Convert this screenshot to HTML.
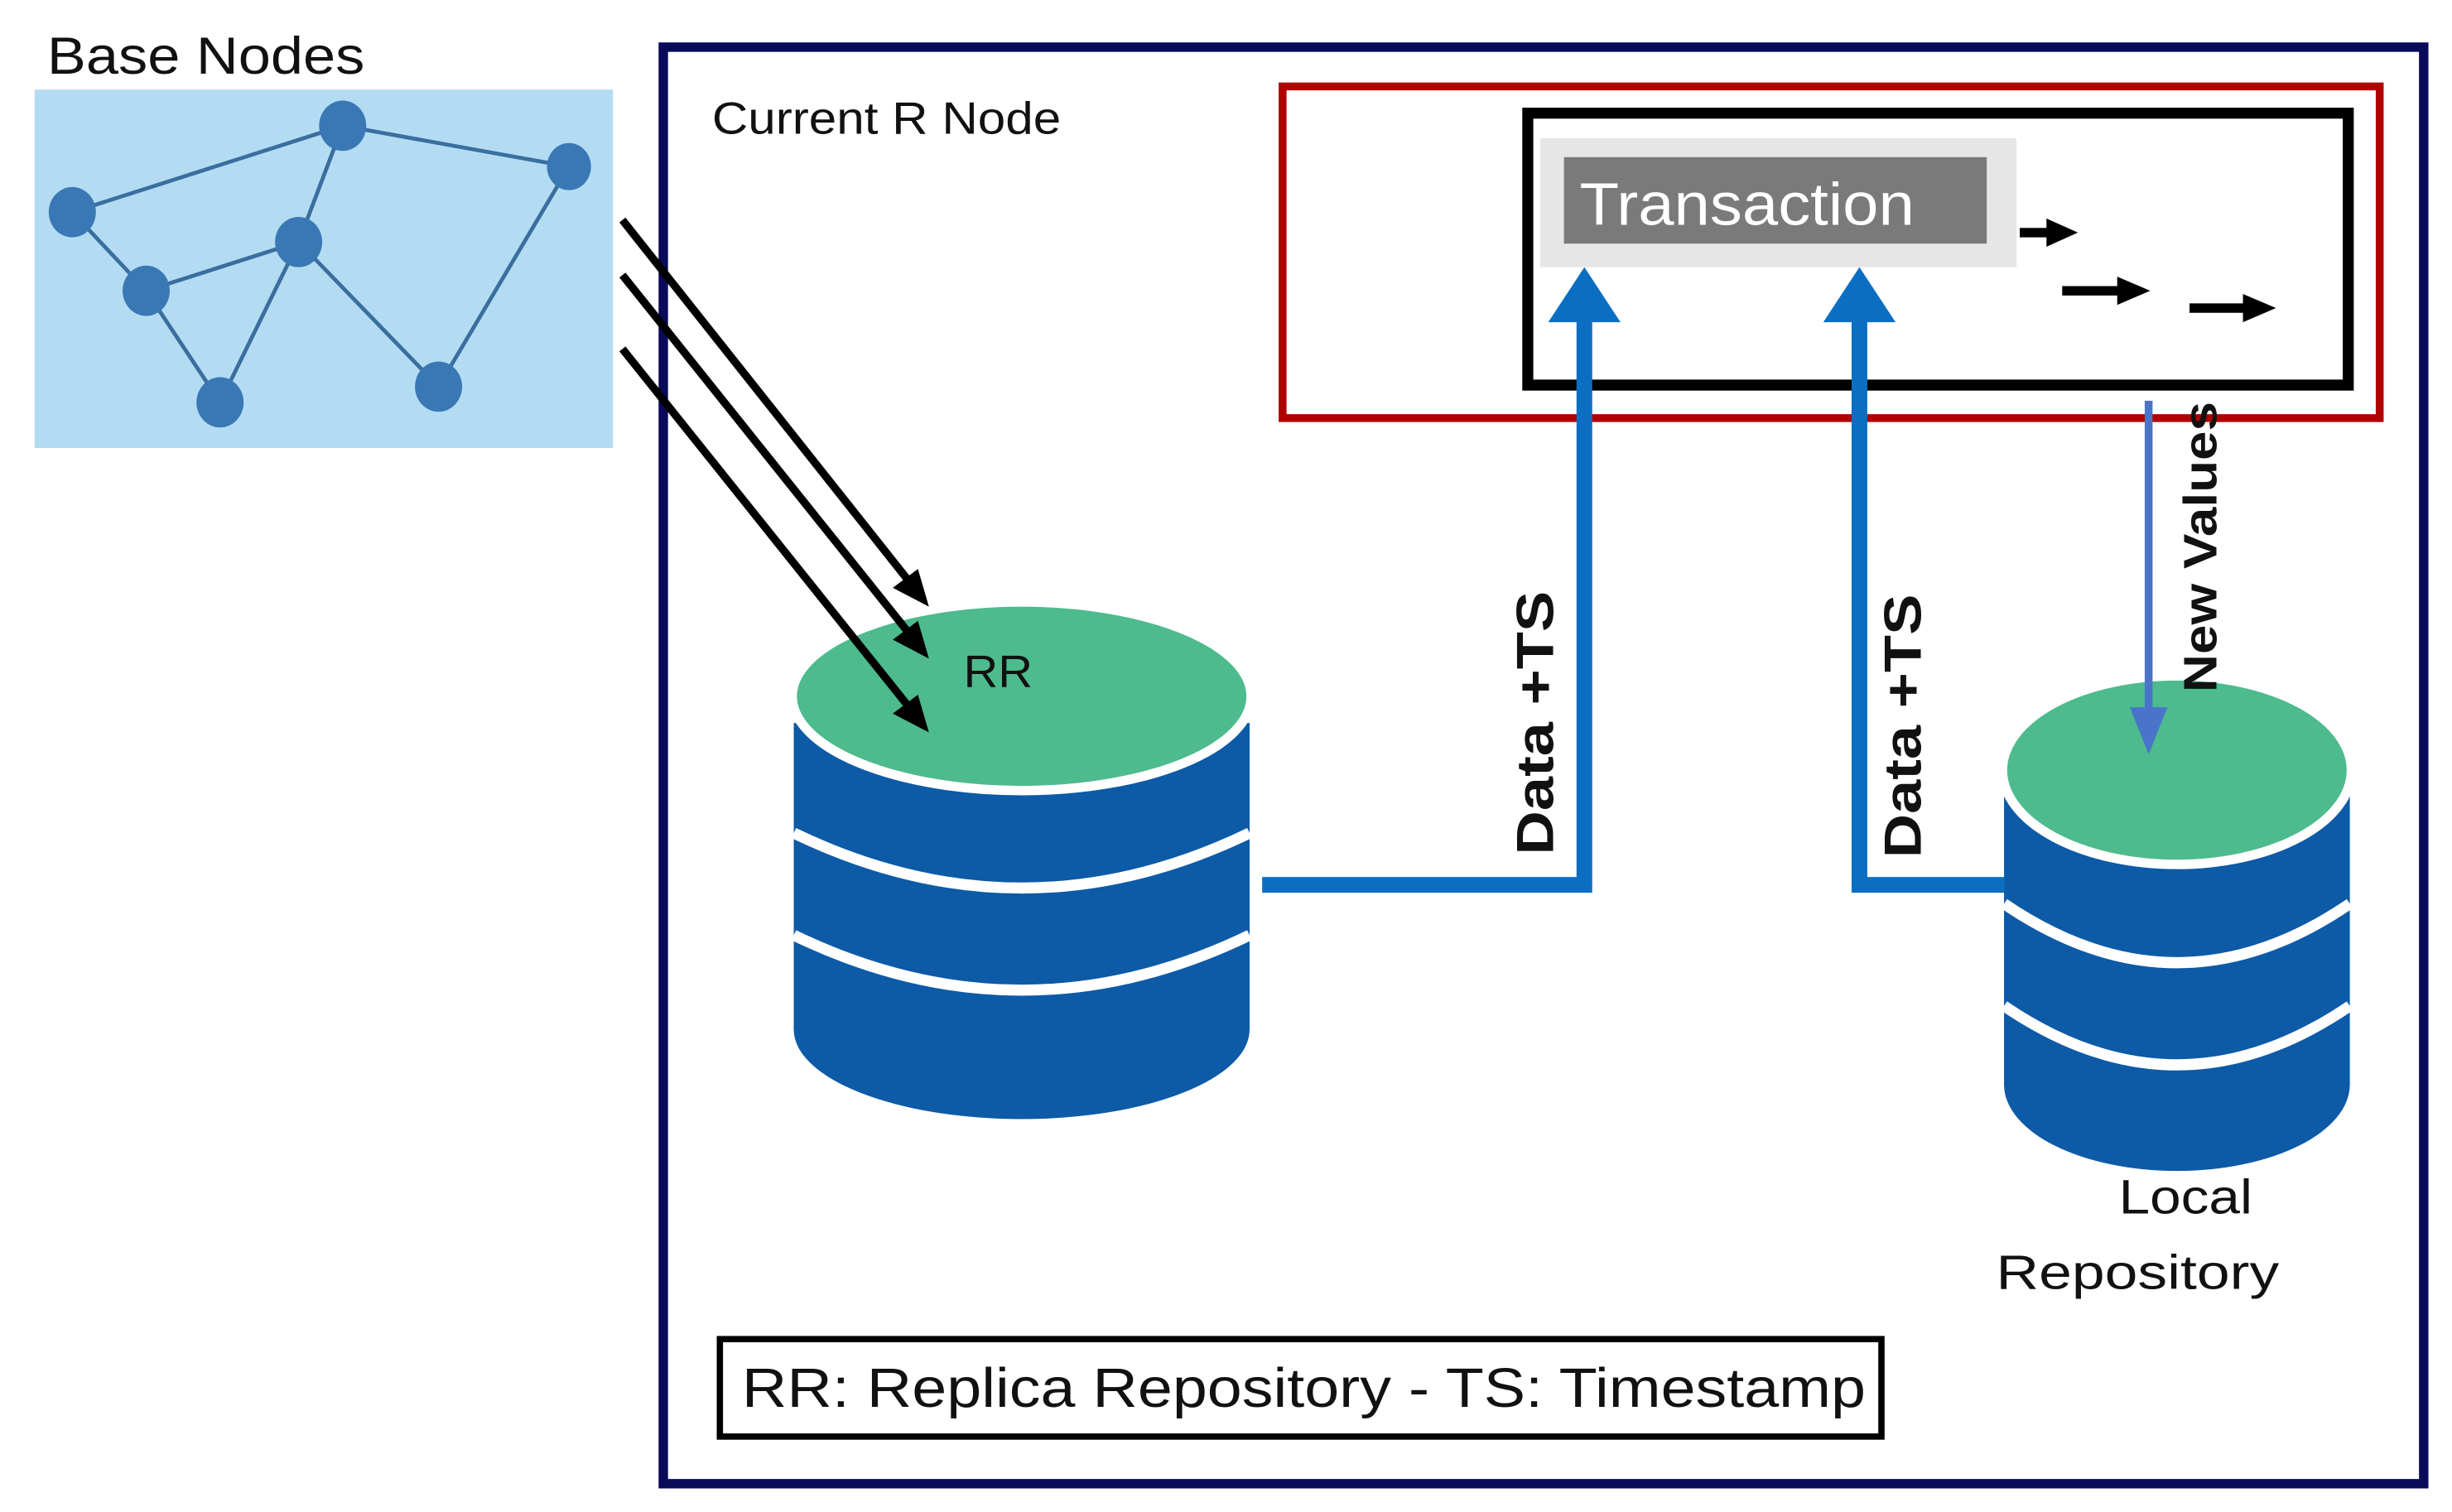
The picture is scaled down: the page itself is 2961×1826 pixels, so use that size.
<!DOCTYPE html>
<html><head><meta charset="utf-8"><style>
html,body{margin:0;padding:0;background:#fff;}
svg{display:block;}
text{font-family:"Liberation Sans",sans-serif;}
</style></head><body>
<svg width="2961" height="1826" viewBox="0 0 1560 962" preserveAspectRatio="none" xmlns="http://www.w3.org/2000/svg">
<rect width="1560" height="962" fill="#fff"/>
<text x="30" y="47" font-size="33" textLength="202" lengthAdjust="spacingAndGlyphs" fill="#111">Base Nodes</text>
<rect x="22" y="57" width="368" height="228" fill="#b3dcf3"/>
<g stroke="#3a6e9e" stroke-width="2.5">
<line x1="46" y1="135" x2="218" y2="80"/><line x1="218" y1="80" x2="362" y2="106"/>
<line x1="218" y1="80" x2="190" y2="154"/><line x1="190" y1="154" x2="93" y2="185"/>
<line x1="93" y1="185" x2="46" y2="135"/><line x1="190" y1="154" x2="140" y2="256"/>
<line x1="93" y1="185" x2="140" y2="256"/><line x1="190" y1="154" x2="279" y2="246"/>
<line x1="279" y1="246" x2="362" y2="106"/>
</g>
<g fill="#3a78b5">
<ellipse cx="218" cy="80" rx="15" ry="16"/><ellipse cx="362" cy="106" rx="14" ry="15"/>
<ellipse cx="46" cy="135" rx="15" ry="16"/><ellipse cx="190" cy="154" rx="15" ry="16"/>
<ellipse cx="93" cy="185" rx="15" ry="16"/><ellipse cx="140" cy="256" rx="15" ry="16"/>
<ellipse cx="279" cy="246" rx="15" ry="16"/>
</g>
<rect x="422" y="30" width="1120" height="914" fill="none" stroke="#0a0a5a" stroke-width="6"/>
<text x="453" y="85" font-size="29" textLength="222" lengthAdjust="spacingAndGlyphs" fill="#111">Current R Node</text>
<rect x="816" y="55" width="698" height="211" fill="none" stroke="#b00000" stroke-width="5"/>
<rect x="972" y="72" width="522" height="173" fill="none" stroke="#000" stroke-width="7"/>
<rect x="980" y="88" width="303" height="82" fill="#e6e6e6"/>
<rect x="995" y="100" width="269" height="55" fill="#7a7a7a"/>
<text x="1005" y="143" font-size="38" textLength="213" lengthAdjust="spacingAndGlyphs" fill="#fff">Transaction</text>
<g stroke="#000" stroke-width="6"><line x1="1285" y1="148" x2="1305" y2="148"/><line x1="1312" y1="185" x2="1350" y2="185"/><line x1="1393" y1="196" x2="1430" y2="196"/></g>
<g fill="#000"><polygon points="1302,139 1322,148 1302,157"/><polygon points="1347,176 1368,185 1347,194"/><polygon points="1427,187 1448,196 1427,205"/></g>
<!-- RR cylinder -->
<g fill="#0d5aa7">
<ellipse cx="650" cy="655" rx="145" ry="57"/><rect x="505" y="460" width="290" height="195"/>
</g>
<g fill="none" stroke="#fff" stroke-width="7">
<path d="M505,530 Q650,600 795,530"/><path d="M505,595 Q650,665 795,595"/>
</g>
<ellipse cx="650" cy="443" rx="146" ry="60" fill="#4dbb8d" stroke="#fff" stroke-width="6"/>
<text x="613" y="437" font-size="29" textLength="44" lengthAdjust="spacingAndGlyphs" fill="#111">RR</text>
<!-- local cylinder -->
<g fill="#0d5aa7"><ellipse cx="1385" cy="690" rx="110" ry="55"/><rect x="1275" y="500" width="220" height="190"/></g>
<g fill="none" stroke="#fff" stroke-width="7">
<path d="M1275,575 Q1385,650 1495,575"/><path d="M1275,640 Q1385,715 1495,640"/>
</g>
<ellipse cx="1385" cy="490" rx="111" ry="60" fill="#4dbb8d" stroke="#fff" stroke-width="6"/>
<text x="1348" y="772" font-size="31" textLength="85" lengthAdjust="spacingAndGlyphs" fill="#111">Local</text>
<text x="1270" y="820" font-size="31" textLength="180" lengthAdjust="spacingAndGlyphs" fill="#111">Repository</text>
<!-- diagonal arrows -->
<g stroke="#000" stroke-width="5"><line x1="396" y1="140" x2="580" y2="372"/><line x1="396" y1="175" x2="580" y2="405"/><line x1="396" y1="222" x2="580" y2="452"/></g>
<g fill="#000"><polygon points="591,386 568,374 584,362"/><polygon points="591,419 568,407 584,395"/><polygon points="591,466 568,454 584,442"/></g>
<!-- blue connectors -->
<g fill="none" stroke="#0a6fc2" stroke-width="10">
<polyline points="803,563 1008,563 1008,200"/>
<polyline points="1275,563 1183,563 1183,200"/>
</g>
<g fill="#0a6fc2"><polygon points="1008,170 985,205 1031,205"/><polygon points="1183,170 1160,205 1206,205"/></g>
<text transform="translate(988,460) rotate(-90)" text-anchor="middle" font-size="33" font-weight="bold" textLength="168" lengthAdjust="spacingAndGlyphs" fill="#111">Data +TS</text>
<text transform="translate(1222,462) rotate(-90)" text-anchor="middle" font-size="33" font-weight="bold" textLength="168" lengthAdjust="spacingAndGlyphs" fill="#111">Data +TS</text>
<line x1="1367" y1="255" x2="1367" y2="455" stroke="#4a74c9" stroke-width="5"/>
<polygon points="1367,480 1355,450 1379,450" fill="#4a74c9"/>
<text transform="translate(1410,348) rotate(-90)" text-anchor="middle" font-size="30" font-weight="bold" textLength="185" lengthAdjust="spacingAndGlyphs" fill="#111">New Values</text>
<!-- legend -->
<rect x="458" y="852" width="739" height="62" fill="#fff" stroke="#000" stroke-width="4"/>
<text x="472" y="895" font-size="35" textLength="715" lengthAdjust="spacingAndGlyphs" fill="#111">RR: Replica Repository - TS: Timestamp</text>
</svg>
</body></html>
